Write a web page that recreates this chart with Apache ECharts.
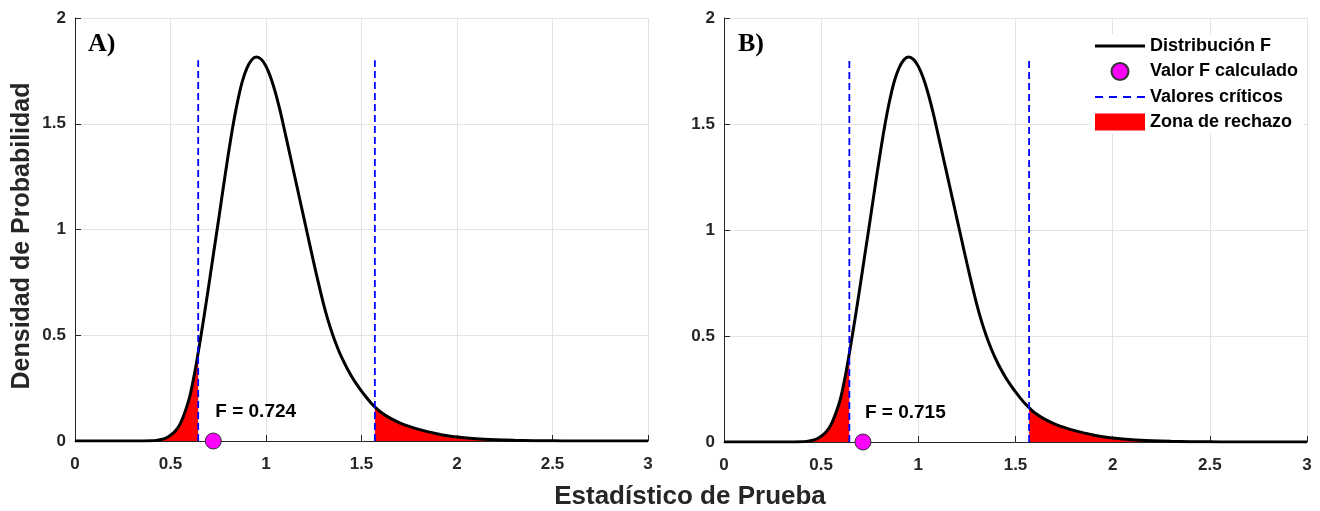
<!DOCTYPE html>
<html>
<head>
<meta charset="utf-8">
<script src="https://cdn.jsdelivr.net/npm/echarts@6/dist/echarts.min.js"></script>
<style>
  html, body { margin: 0; padding: 0; background: #fff; }
  #chart { width: 1320px; height: 511px; }
</style>
</head>
<body>
<div id="chart"></div>
<script>
// curve (same distribution in both panels)
const fx = [0, 0.1, 0.2, 0.3, 0.35, 0.4, 0.425, 0.45, 0.475, 0.5, 0.525, 0.55, 0.575, 0.6, 0.625,
  0.65, 0.675, 0.7, 0.725, 0.75, 0.775, 0.8, 0.825, 0.85, 0.875, 0.9, 0.925, 0.95, 0.975, 1.0,
  1.025, 1.05, 1.075, 1.1, 1.125, 1.15, 1.175, 1.2, 1.225, 1.25, 1.275, 1.3, 1.325, 1.35, 1.375,
  1.4, 1.425, 1.45, 1.475, 1.5, 1.525, 1.55, 1.575, 1.6, 1.65, 1.7, 1.75, 1.8, 1.85, 1.9, 1.95,
  2.0, 2.1, 2.2, 2.3, 2.4, 2.5, 2.6, 2.8, 3.0]
const fDensity = [0, 0, 0, 0, 0.0003, 0.001, 0.003, 0.007, 0.014, 0.027, 0.047, 0.080, 0.135, 0.207, 0.315,
  0.445, 0.585, 0.733, 0.885, 1.035, 1.190, 1.340, 1.480, 1.600, 1.697, 1.763, 1.802, 1.816, 1.805, 1.772,
  1.718, 1.645, 1.557, 1.457, 1.355, 1.253, 1.150, 1.048, 0.945, 0.843, 0.745, 0.652, 0.570, 0.500, 0.440,
  0.388, 0.343, 0.303, 0.268, 0.236, 0.207, 0.180, 0.157, 0.137, 0.108, 0.086, 0.069, 0.055, 0.043, 0.033, 0.025,
  0.019, 0.011, 0.006, 0.003, 0.0015, 0.0008, 0.0004, 0.0001, 0]

// critical values and the curve height there
const critLow = 0.645
const critHigh = 1.570
const critLowDensity = 0.418
const critHighDensity = 0.162
const critTop = 1.8

const panelTags = ['A)', 'B)']
const fCalculated = [0.724, 0.715]

const FONT = "'Liberation Sans', Arial, sans-serif"
const AX = '#262626'

const chart = echarts.init(document.getElementById('chart'))

const curve = fx.map((x, i) => [x, fDensity[i]])
const lowTail = curve.filter(p => p[0] < critLow).concat([[critLow, critLowDensity]])
const highTail = [[critHigh, critHighDensity]].concat(curve.filter(p => p[0] > critHigh))

const grids = [
  { left: 75, top: 18, width: 573, height: 423 },
  { left: 724, top: 18, width: 583, height: 424 }
]

const xAxes = grids.map((g, i) => ({
  type: 'value',
  gridIndex: i,
  min: 0,
  max: 3,
  interval: 0.5,
  axisLine: { lineStyle: { color: AX, width: 1 } },
  axisTick: { inside: true, length: 6, lineStyle: { color: AX } },
  axisLabel: { color: AX, fontWeight: 'bold', fontSize: 17, fontFamily: FONT, margin: 15 },
  splitLine: { show: true, lineStyle: { color: '#e3e3e3', width: 1 } }
}))

const yAxes = grids.map((g, i) => ({
  type: 'value',
  gridIndex: i,
  min: 0,
  max: 2,
  interval: 0.5,
  axisLine: { show: true, lineStyle: { color: AX, width: 1 } },
  axisTick: { show: true, inside: true, length: 6, lineStyle: { color: AX } },
  axisLabel: { color: AX, fontWeight: 'bold', fontSize: 17, fontFamily: FONT, margin: 9 },
  splitLine: { show: true, lineStyle: { color: '#e3e3e3', width: 1 } }
}))

const series = []
grids.forEach((g, i) => {
  [lowTail, highTail].forEach(tail => {
    series.push({
      name: 'Zona de rechazo',
      type: 'line',
      xAxisIndex: i,
      yAxisIndex: i,
      data: tail,
      symbol: 'none',
      smooth: 0.3,
      color: '#ff0000',
      lineStyle: { width: 0 },
      areaStyle: { color: '#ff0000', opacity: 1 },
      z: 2
    })
  })
  series.push({
    name: 'Distribución F',
    type: 'line',
    xAxisIndex: i,
    yAxisIndex: i,
    data: curve,
    symbol: 'none',
    smooth: 0.3,
    color: '#000',
    lineStyle: { color: '#000', width: 3 },
    z: 3
  })
  ;[critLow, critHigh].forEach(c => {
    series.push({
      name: 'Valores críticos',
      type: 'line',
      xAxisIndex: i,
      yAxisIndex: i,
      data: [[c, 0], [c, critTop]],
      symbol: 'none',
      color: '#0000ff',
      lineStyle: { color: '#0000ff', width: 1.8, type: [7, 4] },
      z: 4
    })
  })
  series.push({
    name: 'Valor F calculado',
    type: 'scatter',
    xAxisIndex: i,
    yAxisIndex: i,
    data: [[fCalculated[i], 0]],
    symbol: 'circle',
    symbolSize: 16,
    color: '#ff00ff',
    itemStyle: { color: '#ff00ff', borderColor: '#333', borderWidth: 1, opacity: 1 },
    label: {
      show: true,
      position: 'top',
      align: 'left',
      offset: [2, -6],
      formatter: p => 'F = ' + p.value[0].toFixed(3),
      color: '#000',
      fontWeight: 'bold',
      fontSize: 19,
      fontFamily: FONT
    },
    clip: false,
    z: 6
  })
})

chart.setOption({
  animation: false,
  backgroundColor: '#fff',
  grid: grids,
  xAxis: xAxes,
  yAxis: yAxes,
  legend: {
    orient: 'vertical',
    left: 1090,
    top: 34,
    padding: [3, 6, 3, 5],
    itemGap: 7,
    itemWidth: 50,
    itemHeight: 17,
    backgroundColor: '#fff',
    textStyle: { color: '#000', fontWeight: 'bold', fontSize: 18, fontFamily: FONT },
    data: [
      { name: 'Distribución F', icon: 'path://M0,0h50v3h-50z', itemStyle: { borderWidth: 0 } },
      { name: 'Valor F calculado', icon: 'circle' },
      { name: 'Valores críticos', icon: 'path://M0,0h8v2h-8zM14,0h8v2h-8zM28,0h8v2h-8zM42,0h8v2h-8z', itemStyle: { borderWidth: 0 } },
      { name: 'Zona de rechazo', icon: 'rect', itemStyle: { borderWidth: 0 } }
    ],
    z: 10
  },
  graphic: [
    { type: 'text', left: 88, top: 31, style: { text: panelTags[0], fill: '#000', font: "bold 26px 'Liberation Serif', 'Times New Roman', serif" } },
    { type: 'text', left: 738, top: 31, style: { text: panelTags[1], fill: '#000', font: "bold 26px 'Liberation Serif', 'Times New Roman', serif" } },
    { type: 'text', x: 22, y: 236, rotation: Math.PI / 2,
      style: { text: 'Densidad de Probabilidad', fill: AX, align: 'center', verticalAlign: 'middle', font: "bold 25px 'Liberation Sans', Arial, sans-serif" } },
    { type: 'text', x: 690, y: 497,
      style: { text: 'Estadístico de Prueba', fill: AX, align: 'center', verticalAlign: 'middle', font: "bold 26px 'Liberation Sans', Arial, sans-serif" } }
  ],
  series: series
})
</script>
</body>
</html>
